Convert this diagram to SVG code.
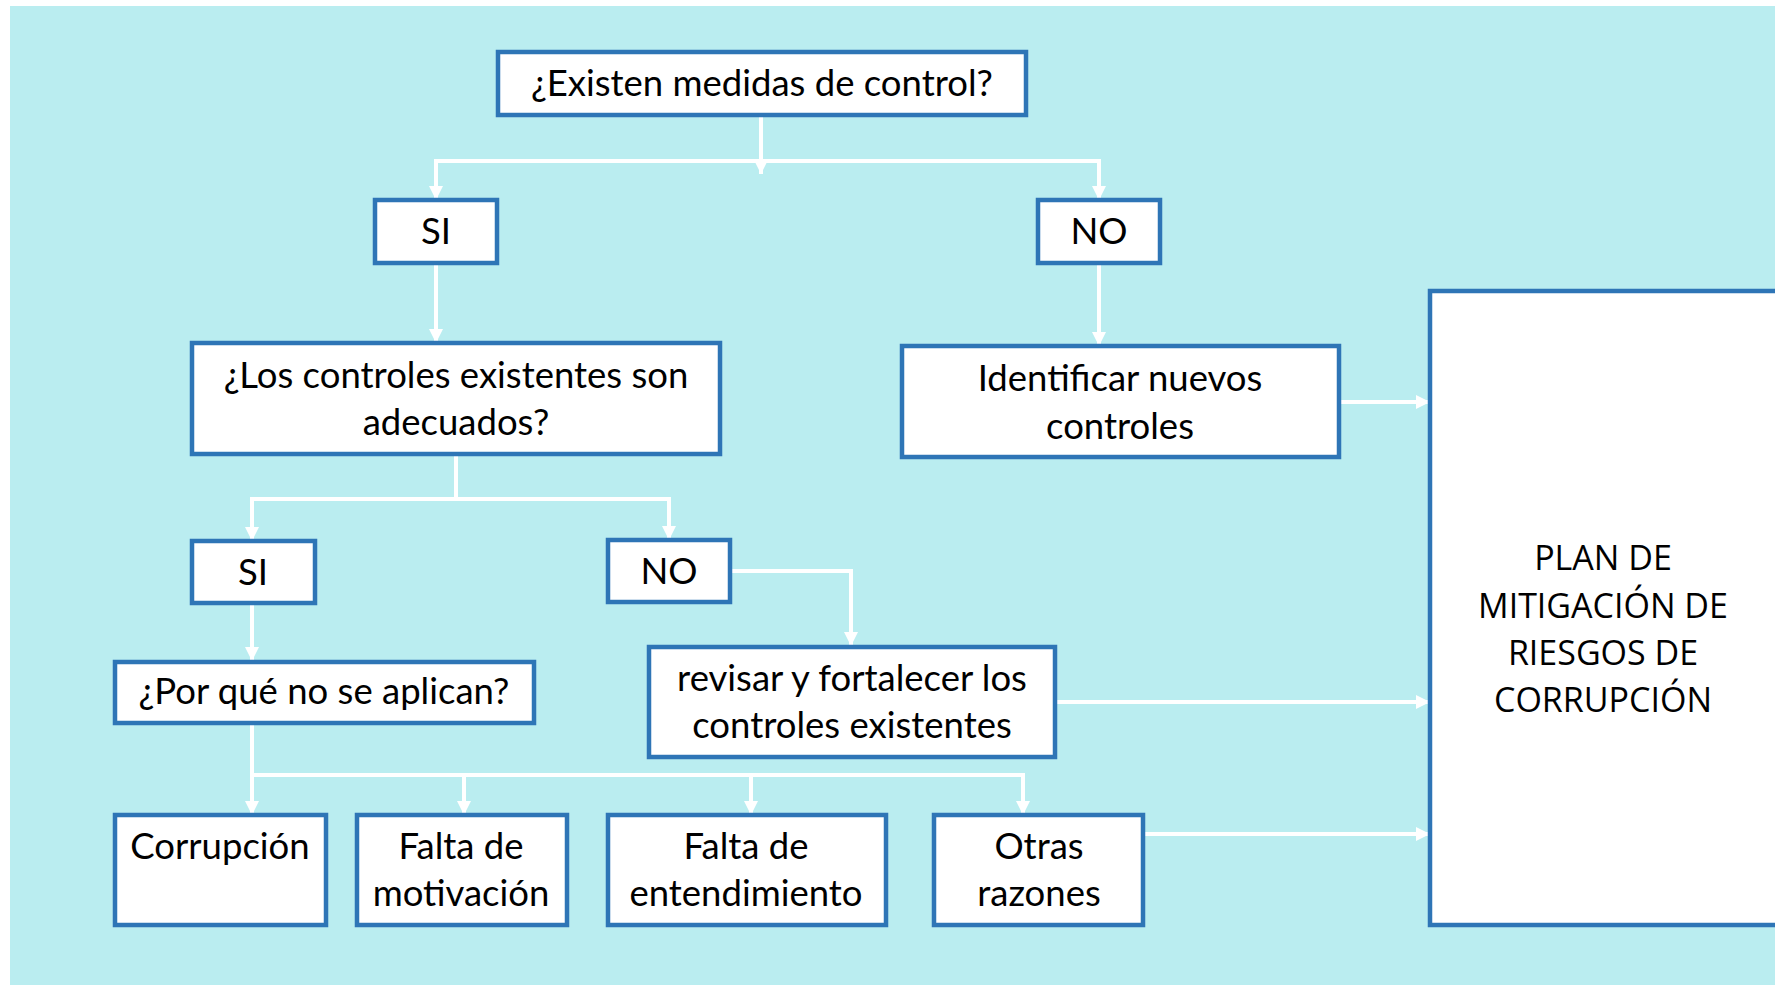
<svg xmlns="http://www.w3.org/2000/svg" width="1775" height="985" viewBox="0 0 1775 985">
<defs>
<marker id="ah" markerUnits="userSpaceOnUse" markerWidth="16" markerHeight="16" viewBox="0 0 16 16" refX="14" refY="8" orient="auto-start-reverse">
<path d="M0,1 L14,8 L0,15 Z" fill="#ffffff"/>
</marker>
<style>
.box{fill:#ffffff;stroke:#2E75B6;stroke-width:4.5}
.t{font-family:Lato,"Open Sans",sans-serif;font-size:36.5px;fill:#000000;text-anchor:middle}
.p{font-family:"Open Sans",sans-serif;font-size:34px;fill:#000000;text-anchor:middle}
.c{fill:none;stroke:#ffffff;stroke-width:4}
.c path{marker-end:url(#ah)}
</style>
</defs>
<rect x="10" y="6" width="1765" height="979" fill="#BAEDF0"/>
<g id="connectors" class="c">
<path d="M761,115 V174"/>
<path d="M436,200 V161 H1099 V200" style="marker-start:url(#ah)"/>
<path d="M436,263 V343"/>
<path d="M1099,263 V346"/>
<path d="M1339,402 H1430"/>
<path d="M456,454 V499" style="marker-end:none"/>
<path d="M252,541 V499 H669 V540" style="marker-start:url(#ah)"/>
<path d="M730,571 H851 V646"/>
<path d="M1055,702 H1430"/>
<path d="M252,603 V661"/>
<path d="M252,723 V815"/>
<path d="M252,775 H1023 V815" style="marker-start:none"/>
<path d="M464,775 V815"/>
<path d="M751,775 V815"/>
<path d="M1143,834 H1430"/>
</g>
<g id="n-existen"><rect class="box" x="498" y="52" width="528" height="63"/><text class="t" x="762" y="96">¿Existen medidas de control?</text></g>
<g id="n-si1"><rect class="box" x="375" y="200" width="122" height="63"/><text class="t" x="436" y="244">SI</text></g>
<g id="n-no1"><rect class="box" x="1038" y="200" width="122" height="63"/><text class="t" x="1099" y="244">NO</text></g>
<g id="n-adecuados"><rect class="box" x="192" y="343" width="528" height="111"/><text class="t" x="456" y="388">¿Los controles existentes son</text><text class="t" x="456" y="435">adecuados?</text></g>
<g id="n-identificar"><rect class="box" x="902" y="346" width="437" height="111"/><text class="t" x="1120" y="391">Identificar nuevos</text><text class="t" x="1120" y="439">controles</text></g>
<g id="n-si2"><rect class="box" x="192" y="541" width="123" height="62"/><text class="t" x="253" y="585">SI</text></g>
<g id="n-no2"><rect class="box" x="608" y="540" width="122" height="62"/><text class="t" x="669" y="584">NO</text></g>
<g id="n-porque"><rect class="box" x="115" y="662" width="419" height="61"/><text class="t" x="324" y="704">¿Por qué no se aplican?</text></g>
<g id="n-revisar"><rect class="box" x="649" y="647" width="406" height="110"/><text class="t" x="852" y="691">revisar y fortalecer los</text><text class="t" x="852" y="738">controles existentes</text></g>
<g id="n-corrupcion"><rect class="box" x="115" y="815" width="211" height="110"/><text class="t" x="220" y="859">Corrupción</text></g>
<g id="n-motivacion"><rect class="box" x="357" y="815" width="210" height="110"/><text class="t" x="461" y="859">Falta de</text><text class="t" x="461" y="906">motivación</text></g>
<g id="n-entendimiento"><rect class="box" x="608" y="815" width="278" height="110"/><text class="t" x="746" y="859">Falta de</text><text class="t" x="746" y="906">entendimiento</text></g>
<g id="n-otras"><rect class="box" x="934" y="815" width="209" height="110"/><text class="t" x="1039" y="859">Otras</text><text class="t" x="1039" y="906">razones</text></g>
<g id="n-plan"><rect class="box" x="1430" y="291" width="360" height="634"/><text class="p" x="1603" y="570">PLAN DE</text><text class="p" x="1603" y="618">MITIGACIÓN DE</text><text class="p" x="1603" y="665">RIESGOS DE</text><text class="p" x="1603" y="712">CORRUPCIÓN</text></g>
</svg>
